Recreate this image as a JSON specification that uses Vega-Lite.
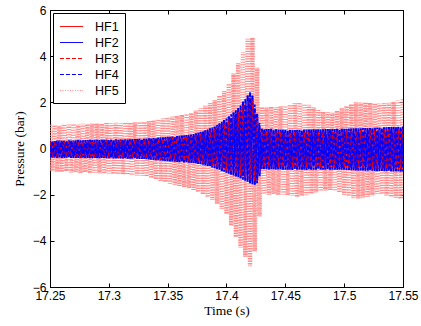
{
"$schema": "https://vega.github.io/schema/vega-lite/v6.json",
"width": 353, "height": 277,
"autosize": {"type": "none"},
"padding": {"left": 50, "top": 10, "right": 18, "bottom": 39},
"background": "white",
"config": {
 "view": {"stroke": "black", "strokeWidth": 1},
 "style": {"guide-legend": {"stroke": "black", "strokeWidth": 1, "fill": "white"}},
 "axis": {"grid": false, "domainColor": "black", "domainWidth": 1, "tickColor": "black", "tickWidth": 1, "labelColor": "black", "titleColor": "black", "labelFont": "Liberation Sans", "labelFontSize": 12, "titleFont": "Liberation Serif", "titleFontSize": 13.5, "titleFontWeight": "normal", "tickSize": -4, "zindex": 1, "labelFlush": false},
 "legend": {"orient": "top-left", "offset": 3, "padding": 6, "fillColor": "white", "strokeColor": "black", "strokeWidth": 1, "symbolType": "M-1.65,0H1.65", "symbolSize": 196, "symbolStrokeWidth": 1, "symbolOffset": 5, "labelOffset": 16, "labelFont": "Liberation Sans", "labelFontSize": 12.5, "labelColor": "black", "rowPadding": 2}
},
"data": {"values": [
{"t":17.25,"HF1":-0.36,"HF2":0.33,"HF3":0.30,"HF4":-0.40,"HF5":1.03},
{"t":17.252,"HF1":0.30,"HF2":-0.39,"HF3":-0.35,"HF4":0.33,"HF5":-0.97},
{"t":17.254,"HF1":-0.37,"HF2":0.32,"HF3":0.29,"HF4":-0.40,"HF5":1.01},
{"t":17.256,"HF1":0.29,"HF2":-0.40,"HF3":-0.36,"HF4":0.34,"HF5":-1.01},
{"t":17.258,"HF1":-0.35,"HF2":0.34,"HF3":0.31,"HF4":-0.38,"HF5":0.99},
{"t":17.26,"HF1":0.31,"HF2":-0.40,"HF3":-0.34,"HF4":0.33,"HF5":-1.02},
{"t":17.262,"HF1":-0.37,"HF2":0.33,"HF3":0.30,"HF4":-0.41,"HF5":1.05},
{"t":17.264,"HF1":0.30,"HF2":-0.39,"HF3":-0.37,"HF4":0.34,"HF5":-0.99},
{"t":17.266,"HF1":-0.36,"HF2":0.35,"HF3":0.31,"HF4":-0.40,"HF5":1.03},
{"t":17.268,"HF1":0.31,"HF2":-0.41,"HF3":-0.35,"HF4":0.34,"HF5":-1.04},
{"t":17.27,"HF1":-0.37,"HF2":0.34,"HF3":0.30,"HF4":-0.41,"HF5":1.06},
{"t":17.272,"HF1":0.32,"HF2":-0.40,"HF3":-0.37,"HF4":0.35,"HF5":-1.02},
{"t":17.274,"HF1":-0.36,"HF2":0.36,"HF3":0.31,"HF4":-0.41,"HF5":1.04},
{"t":17.276,"HF1":0.31,"HF2":-0.41,"HF3":-0.36,"HF4":0.35,"HF5":-1.06},
{"t":17.278,"HF1":-0.37,"HF2":0.35,"HF3":0.32,"HF4":-0.40,"HF5":1.07},
{"t":17.28,"HF1":0.32,"HF2":-0.41,"HF3":-0.36,"HF4":0.36,"HF5":-1.03},
{"t":17.282,"HF1":-0.36,"HF2":0.36,"HF3":0.33,"HF4":-0.41,"HF5":1.06},
{"t":17.284,"HF1":0.33,"HF2":-0.42,"HF3":-0.37,"HF4":0.37,"HF5":-1.07},
{"t":17.286,"HF1":-0.38,"HF2":0.36,"HF3":0.32,"HF4":-0.42,"HF5":1.08},
{"t":17.288,"HF1":0.32,"HF2":-0.41,"HF3":-0.38,"HF4":0.37,"HF5":-1.05},
{"t":17.29,"HF1":-0.37,"HF2":0.37,"HF3":0.33,"HF4":-0.42,"HF5":1.09},
{"t":17.292,"HF1":0.33,"HF2":-0.42,"HF3":-0.37,"HF4":0.36,"HF5":-1.08},
{"t":17.294,"HF1":-0.38,"HF2":0.37,"HF3":0.33,"HF4":-0.41,"HF5":1.07},
{"t":17.296,"HF1":0.34,"HF2":-0.42,"HF3":-0.38,"HF4":0.37,"HF5":-1.09},
{"t":17.298,"HF1":-0.37,"HF2":0.38,"HF3":0.34,"HF4":-0.42,"HF5":1.10},
{"t":17.3,"HF1":0.34,"HF2":-0.42,"HF3":-0.38,"HF4":0.38,"HF5":-1.08},
{"t":17.302,"HF1":-0.38,"HF2":0.38,"HF3":0.34,"HF4":-0.42,"HF5":1.09},
{"t":17.304,"HF1":0.34,"HF2":-0.43,"HF3":-0.38,"HF4":0.38,"HF5":-1.11},
{"t":17.306,"HF1":-0.39,"HF2":0.39,"HF3":0.35,"HF4":-0.43,"HF5":1.11},
{"t":17.308,"HF1":0.35,"HF2":-0.42,"HF3":-0.39,"HF4":0.39,"HF5":-1.12},
{"t":17.31,"HF1":-0.38,"HF2":0.39,"HF3":0.35,"HF4":-0.43,"HF5":1.10},
{"t":17.312,"HF1":0.35,"HF2":-0.43,"HF3":-0.38,"HF4":0.39,"HF5":-1.13},
{"t":17.314,"HF1":-0.40,"HF2":0.40,"HF3":0.36,"HF4":-0.44,"HF5":1.13},
{"t":17.316,"HF1":0.36,"HF2":-0.44,"HF3":-0.39,"HF4":0.40,"HF5":-1.14},
{"t":17.318,"HF1":-0.39,"HF2":0.40,"HF3":0.36,"HF4":-0.44,"HF5":1.12},
{"t":17.32,"HF1":0.36,"HF2":-0.44,"HF3":-0.40,"HF4":0.41,"HF5":-1.16},
{"t":17.322,"HF1":-0.40,"HF2":0.41,"HF3":0.37,"HF4":-0.44,"HF5":1.14},
{"t":17.324,"HF1":0.37,"HF2":-0.44,"HF3":-0.39,"HF4":0.41,"HF5":-1.17},
{"t":17.326,"HF1":-0.40,"HF2":0.42,"HF3":0.37,"HF4":-0.45,"HF5":1.15},
{"t":17.328,"HF1":0.37,"HF2":-0.45,"HF3":-0.41,"HF4":0.42,"HF5":-1.18},
{"t":17.33,"HF1":-0.41,"HF2":0.42,"HF3":0.38,"HF4":-0.45,"HF5":1.15},
{"t":17.332,"HF1":0.38,"HF2":-0.46,"HF3":-0.41,"HF4":0.43,"HF5":-1.22},
{"t":17.334,"HF1":-0.42,"HF2":0.44,"HF3":0.39,"HF4":-0.47,"HF5":1.19},
{"t":17.336,"HF1":0.40,"HF2":-0.48,"HF3":-0.43,"HF4":0.44,"HF5":-1.28},
{"t":17.338,"HF1":-0.44,"HF2":0.45,"HF3":0.40,"HF4":-0.49,"HF5":1.22},
{"t":17.34,"HF1":0.41,"HF2":-0.50,"HF3":-0.45,"HF4":0.46,"HF5":-1.34},
{"t":17.342,"HF1":-0.46,"HF2":0.47,"HF3":0.42,"HF4":-0.51,"HF5":1.27},
{"t":17.344,"HF1":0.43,"HF2":-0.52,"HF3":-0.47,"HF4":0.48,"HF5":-1.40},
{"t":17.346,"HF1":-0.47,"HF2":0.48,"HF3":0.43,"HF4":-0.53,"HF5":1.30},
{"t":17.348,"HF1":0.44,"HF2":-0.54,"HF3":-0.48,"HF4":0.49,"HF5":-1.46},
{"t":17.35,"HF1":-0.49,"HF2":0.50,"HF3":0.45,"HF4":-0.55,"HF5":1.35},
{"t":17.352,"HF1":0.46,"HF2":-0.56,"HF3":-0.50,"HF4":0.51,"HF5":-1.52},
{"t":17.354,"HF1":-0.50,"HF2":0.52,"HF3":0.46,"HF4":-0.56,"HF5":1.38},
{"t":17.356,"HF1":0.47,"HF2":-0.57,"HF3":-0.51,"HF4":0.53,"HF5":-1.57},
{"t":17.358,"HF1":-0.52,"HF2":0.54,"HF3":0.48,"HF4":-0.58,"HF5":1.42},
{"t":17.36,"HF1":0.49,"HF2":-0.59,"HF3":-0.53,"HF4":0.55,"HF5":-1.62},
{"t":17.362,"HF1":-0.53,"HF2":0.56,"HF3":0.50,"HF4":-0.59,"HF5":1.46},
{"t":17.364,"HF1":0.51,"HF2":-0.60,"HF3":-0.54,"HF4":0.57,"HF5":-1.67},
{"t":17.366,"HF1":-0.55,"HF2":0.58,"HF3":0.52,"HF4":-0.61,"HF5":1.50},
{"t":17.368,"HF1":0.53,"HF2":-0.61,"HF3":-0.55,"HF4":0.59,"HF5":-1.72},
{"t":17.37,"HF1":-0.56,"HF2":0.60,"HF3":0.54,"HF4":-0.62,"HF5":1.54},
{"t":17.372,"HF1":0.57,"HF2":-0.64,"HF3":-0.57,"HF4":0.63,"HF5":-1.79},
{"t":17.374,"HF1":-0.59,"HF2":0.66,"HF3":0.59,"HF4":-0.65,"HF5":1.64},
{"t":17.376,"HF1":0.62,"HF2":-0.67,"HF3":-0.60,"HF4":0.69,"HF5":-1.89},
{"t":17.378,"HF1":-0.61,"HF2":0.72,"HF3":0.65,"HF4":-0.68,"HF5":1.74},
{"t":17.38,"HF1":0.67,"HF2":-0.70,"HF3":-0.63,"HF4":0.75,"HF5":-1.99},
{"t":17.382,"HF1":-0.66,"HF2":0.79,"HF3":0.71,"HF4":-0.73,"HF5":1.85},
{"t":17.384,"HF1":0.75,"HF2":-0.76,"HF3":-0.68,"HF4":0.83,"HF5":-2.11},
{"t":17.386,"HF1":-0.71,"HF2":0.87,"HF3":0.78,"HF4":-0.79,"HF5":1.97},
{"t":17.388,"HF1":0.82,"HF2":-0.82,"HF3":-0.74,"HF4":0.91,"HF5":-2.23},
{"t":17.39,"HF1":-0.77,"HF2":0.95,"HF3":0.86,"HF4":-0.85,"HF5":2.09},
{"t":17.392,"HF1":0.92,"HF2":-0.89,"HF3":-0.80,"HF4":1.02,"HF5":-2.40},
{"t":17.394,"HF1":-0.84,"HF2":1.09,"HF3":0.98,"HF4":-0.93,"HF5":2.29},
{"t":17.396,"HF1":1.04,"HF2":-0.97,"HF3":-0.87,"HF4":1.16,"HF5":-2.62},
{"t":17.398,"HF1":-0.91,"HF2":1.23,"HF3":1.11,"HF4":-1.01,"HF5":2.49},
{"t":17.4,"HF1":1.17,"HF2":-1.05,"HF3":-0.95,"HF4":1.30,"HF5":-2.84},
{"t":17.402,"HF1":-0.98,"HF2":1.39,"HF3":1.25,"HF4":-1.09,"HF5":2.81},
{"t":17.404,"HF1":1.33,"HF2":-1.13,"HF3":-1.02,"HF4":1.48,"HF5":-3.34},
{"t":17.406,"HF1":-1.05,"HF2":1.57,"HF3":1.41,"HF4":-1.17,"HF5":3.25},
{"t":17.408,"HF1":1.49,"HF2":-1.21,"HF3":-1.09,"HF4":1.66,"HF5":-3.84},
{"t":17.41,"HF1":-1.12,"HF2":1.75,"HF3":1.58,"HF4":-1.25,"HF5":3.69},
{"t":17.412,"HF1":1.70,"HF2":-1.30,"HF3":-1.17,"HF4":1.89,"HF5":-4.29},
{"t":17.414,"HF1":-1.21,"HF2":2.03,"HF3":1.83,"HF4":-1.35,"HF5":4.17},
{"t":17.416,"HF1":1.95,"HF2":-1.40,"HF3":-1.26,"HF4":2.17,"HF5":-4.69},
{"t":17.418,"HF1":-1.30,"HF2":2.31,"HF3":2.08,"HF4":-1.45,"HF5":4.75},
{"t":17.42,"HF1":2.20,"HF2":-1.50,"HF3":-1.35,"HF4":2.45,"HF5":-5.10},
{"t":17.422,"HF1":-1.40,"HF2":2.30,"HF3":2.07,"HF4":-1.55,"HF5":4.80},
{"t":17.424,"HF1":1.71,"HF2":-1.57,"HF3":-1.41,"HF4":1.90,"HF5":-4.45},
{"t":17.426,"HF1":-1.35,"HF2":1.50,"HF3":1.35,"HF4":-1.50,"HF5":3.50},
{"t":17.428,"HF1":0.99,"HF2":-1.20,"HF3":-1.08,"HF4":1.10,"HF5":-2.95},
{"t":17.43,"HF1":-0.81,"HF2":0.85,"HF3":0.77,"HF4":-0.90,"HF5":1.80},
{"t":17.432,"HF1":0.76,"HF2":-0.90,"HF3":-0.81,"HF4":0.85,"HF5":-1.98},
{"t":17.434,"HF1":-0.82,"HF2":0.84,"HF3":0.76,"HF4":-0.91,"HF5":1.78},
{"t":17.436,"HF1":0.75,"HF2":-0.91,"HF3":-0.80,"HF4":0.84,"HF5":-2.00},
{"t":17.438,"HF1":-0.81,"HF2":0.85,"HF3":0.75,"HF4":-0.90,"HF5":1.81},
{"t":17.44,"HF1":0.76,"HF2":-0.90,"HF3":-0.82,"HF4":0.83,"HF5":-1.97},
{"t":17.442,"HF1":-0.82,"HF2":0.83,"HF3":0.74,"HF4":-0.91,"HF5":1.80},
{"t":17.444,"HF1":0.74,"HF2":-0.91,"HF3":-0.81,"HF4":0.82,"HF5":-2.01},
{"t":17.446,"HF1":-0.83,"HF2":0.81,"HF3":0.73,"HF4":-0.92,"HF5":1.83},
{"t":17.448,"HF1":0.73,"HF2":-0.92,"HF3":-0.82,"HF4":0.81,"HF5":-1.99},
{"t":17.45,"HF1":-0.82,"HF2":0.80,"HF3":0.72,"HF4":-0.92,"HF5":1.85},
{"t":17.452,"HF1":0.72,"HF2":-0.92,"HF3":-0.83,"HF4":0.80,"HF5":-2.02},
{"t":17.454,"HF1":-0.83,"HF2":0.81,"HF3":0.72,"HF4":-0.92,"HF5":1.90},
{"t":17.456,"HF1":0.73,"HF2":-0.93,"HF3":-0.82,"HF4":0.81,"HF5":-2.06},
{"t":17.458,"HF1":-0.82,"HF2":0.80,"HF3":0.73,"HF4":-0.92,"HF5":1.96},
{"t":17.46,"HF1":0.72,"HF2":-0.92,"HF3":-0.83,"HF4":0.81,"HF5":-2.10},
{"t":17.462,"HF1":-0.83,"HF2":0.81,"HF3":0.73,"HF4":-0.92,"HF5":1.99},
{"t":17.464,"HF1":0.73,"HF2":-0.92,"HF3":-0.82,"HF4":0.81,"HF5":-2.05},
{"t":17.466,"HF1":-0.82,"HF2":0.82,"HF3":0.73,"HF4":-0.92,"HF5":1.93},
{"t":17.468,"HF1":0.74,"HF2":-0.93,"HF3":-0.83,"HF4":0.82,"HF5":-2.02},
{"t":17.47,"HF1":-0.83,"HF2":0.82,"HF3":0.74,"HF4":-0.92,"HF5":1.89},
{"t":17.472,"HF1":0.74,"HF2":-0.92,"HF3":-0.82,"HF4":0.82,"HF5":-1.96},
{"t":17.474,"HF1":-0.82,"HF2":0.83,"HF3":0.74,"HF4":-0.92,"HF5":1.78},
{"t":17.476,"HF1":0.75,"HF2":-0.92,"HF3":-0.83,"HF4":0.83,"HF5":-1.90},
{"t":17.478,"HF1":-0.83,"HF2":0.83,"HF3":0.75,"HF4":-0.92,"HF5":1.66},
{"t":17.48,"HF1":0.75,"HF2":-0.92,"HF3":-0.82,"HF4":0.83,"HF5":-1.85},
{"t":17.482,"HF1":-0.82,"HF2":0.83,"HF3":0.75,"HF4":-0.92,"HF5":1.59},
{"t":17.484,"HF1":0.75,"HF2":-0.92,"HF3":-0.83,"HF4":0.84,"HF5":-1.82},
{"t":17.486,"HF1":-0.83,"HF2":0.84,"HF3":0.75,"HF4":-0.92,"HF5":1.57},
{"t":17.488,"HF1":0.76,"HF2":-0.92,"HF3":-0.82,"HF4":0.84,"HF5":-1.80},
{"t":17.49,"HF1":-0.82,"HF2":0.84,"HF3":0.76,"HF4":-0.92,"HF5":1.55},
{"t":17.492,"HF1":0.76,"HF2":-0.92,"HF3":-0.83,"HF4":0.84,"HF5":-1.84},
{"t":17.494,"HF1":-0.83,"HF2":0.85,"HF3":0.76,"HF4":-0.92,"HF5":1.64},
{"t":17.496,"HF1":0.76,"HF2":-0.92,"HF3":-0.82,"HF4":0.85,"HF5":-1.91},
{"t":17.498,"HF1":-0.83,"HF2":0.85,"HF3":0.76,"HF4":-0.92,"HF5":1.75},
{"t":17.5,"HF1":0.77,"HF2":-0.92,"HF3":-0.83,"HF4":0.85,"HF5":-2.00},
{"t":17.502,"HF1":-0.84,"HF2":0.85,"HF3":0.77,"HF4":-0.93,"HF5":1.84},
{"t":17.504,"HF1":0.77,"HF2":-0.93,"HF3":-0.83,"HF4":0.86,"HF5":-2.07},
{"t":17.506,"HF1":-0.84,"HF2":0.86,"HF3":0.78,"HF4":-0.94,"HF5":1.92},
{"t":17.508,"HF1":0.78,"HF2":-0.94,"HF3":-0.84,"HF4":0.87,"HF5":-2.15},
{"t":17.51,"HF1":-0.85,"HF2":0.87,"HF3":0.78,"HF4":-0.95,"HF5":2.00},
{"t":17.512,"HF1":0.79,"HF2":-0.95,"HF3":-0.85,"HF4":0.88,"HF5":-2.17},
{"t":17.514,"HF1":-0.85,"HF2":0.88,"HF3":0.79,"HF4":-0.95,"HF5":1.99},
{"t":17.516,"HF1":0.79,"HF2":-0.95,"HF3":-0.86,"HF4":0.89,"HF5":-2.13},
{"t":17.518,"HF1":-0.86,"HF2":0.89,"HF3":0.80,"HF4":-0.96,"HF5":2.00},
{"t":17.52,"HF1":0.80,"HF2":-0.96,"HF3":-0.86,"HF4":0.89,"HF5":-2.09},
{"t":17.522,"HF1":-0.86,"HF2":0.89,"HF3":0.80,"HF4":-0.96,"HF5":1.98},
{"t":17.524,"HF1":0.81,"HF2":-0.96,"HF3":-0.87,"HF4":0.90,"HF5":-2.03},
{"t":17.526,"HF1":-0.87,"HF2":0.90,"HF3":0.81,"HF4":-0.97,"HF5":1.96},
{"t":17.528,"HF1":0.81,"HF2":-0.97,"HF3":-0.87,"HF4":0.91,"HF5":-1.97},
{"t":17.53,"HF1":-0.87,"HF2":0.91,"HF3":0.82,"HF4":-0.97,"HF5":1.95},
{"t":17.532,"HF1":0.82,"HF2":-0.97,"HF3":-0.88,"HF4":0.91,"HF5":-1.98},
{"t":17.534,"HF1":-0.88,"HF2":0.92,"HF3":0.83,"HF4":-0.98,"HF5":1.97},
{"t":17.536,"HF1":0.83,"HF2":-0.98,"HF3":-0.88,"HF4":0.92,"HF5":-2.03},
{"t":17.538,"HF1":-0.88,"HF2":0.93,"HF3":0.83,"HF4":-0.98,"HF5":1.98},
{"t":17.54,"HF1":0.84,"HF2":-0.99,"HF3":-0.89,"HF4":0.93,"HF5":-2.10},
{"t":17.542,"HF1":-0.89,"HF2":0.93,"HF3":0.84,"HF4":-0.99,"HF5":2.03},
{"t":17.544,"HF1":0.85,"HF2":-0.99,"HF3":-0.89,"HF4":0.94,"HF5":-2.13},
{"t":17.546,"HF1":-0.89,"HF2":0.94,"HF3":0.85,"HF4":-0.99,"HF5":2.08},
{"t":17.548,"HF1":0.85,"HF2":-1.00,"HF3":-0.90,"HF4":0.95,"HF5":-2.18},
{"t":17.55,"HF1":-0.90,"HF2":0.95,"HF3":0.86,"HF4":-1.00,"HF5":2.15}
]},
"transform": [{"fold": ["HF1", "HF2", "HF3", "HF4", "HF5"], "as": ["series", "p"]}],
"layer": [
 {"transform": [{"filter": "datum.series === 'HF5'"}],
  "mark": {"type": "line", "strokeWidth": 4.5, "clip": true},
  "encoding": {
   "x": {"field": "t", "type": "quantitative", "scale": {"domain": [17.25, 17.55], "nice": false, "zero": false}, "axis": {"orient": "bottom", "values": [17.25, 17.3, 17.35, 17.4, 17.45, 17.5, 17.55], "format": "~g", "title": "Time (s)", "labelPadding": 7, "titlePadding": 2}},
   "y": {"field": "p", "type": "quantitative", "scale": {"domain": [-6, 6], "nice": false}, "axis": {"orient": "left", "values": [-6, -4, -2, 0, 2, 4, 6], "format": "~g", "title": "Pressure (bar)", "labelPadding": 8, "titlePadding": 6}},
   "color": {"field": "series", "type": "nominal", "scale": {"domain": ["HF1", "HF2", "HF3", "HF4", "HF5"], "range": ["#ff0000", "#0000ff", "#ff0000", "#0000ff", "#ff8c8c"]}, "legend": {"title": null}},
   "strokeDash": {"field": "series", "type": "nominal", "scale": {"domain": ["HF1", "HF2", "HF3", "HF4", "HF5"], "range": [[1, 0], [1, 0], [4, 2], [4, 2], [1, 1.5]]}, "legend": {"title": null}}
  }},
 {"transform": [{"filter": "datum.series === 'HF1'"}],
  "mark": {"type": "line", "strokeWidth": 1.4, "clip": true},
  "encoding": {
   "x": {"field": "t", "type": "quantitative", "axis": {"orient": "top", "values": [17.25, 17.3, 17.35, 17.4, 17.45, 17.5, 17.55], "labels": false, "title": null}},
   "y": {"field": "p", "type": "quantitative", "axis": {"orient": "right", "values": [-6, -4, -2, 0, 2, 4, 6], "labels": false, "title": null}},
   "color": {"field": "series", "type": "nominal", "legend": {"title": null}},
   "strokeDash": {"field": "series", "type": "nominal", "legend": {"title": null}}
  }},
 {"transform": [{"filter": "datum.series === 'HF2'"}],
  "mark": {"type": "line", "strokeWidth": 2.2, "clip": true},
  "encoding": {
   "x": {"field": "t", "type": "quantitative", "axis": null},
   "y": {"field": "p", "type": "quantitative", "axis": null},
   "color": {"field": "series", "type": "nominal", "legend": {"title": null}},
   "strokeDash": {"field": "series", "type": "nominal", "legend": {"title": null}}
  }},
 {"transform": [{"filter": "datum.series === 'HF3'"}],
  "mark": {"type": "line", "strokeWidth": 0.9, "clip": true},
  "encoding": {
   "x": {"field": "t", "type": "quantitative", "axis": null},
   "y": {"field": "p", "type": "quantitative", "axis": null},
   "color": {"field": "series", "type": "nominal", "legend": {"title": null}},
   "strokeDash": {"field": "series", "type": "nominal", "legend": {"title": null}}
  }},
 {"transform": [{"filter": "datum.series === 'HF4'"}],
  "mark": {"type": "line", "strokeWidth": 1.8, "clip": true},
  "encoding": {
   "x": {"field": "t", "type": "quantitative", "axis": null},
   "y": {"field": "p", "type": "quantitative", "axis": null},
   "color": {"field": "series", "type": "nominal", "legend": {"title": null}},
   "strokeDash": {"field": "series", "type": "nominal", "legend": {"title": null}}
  }}
]
}
